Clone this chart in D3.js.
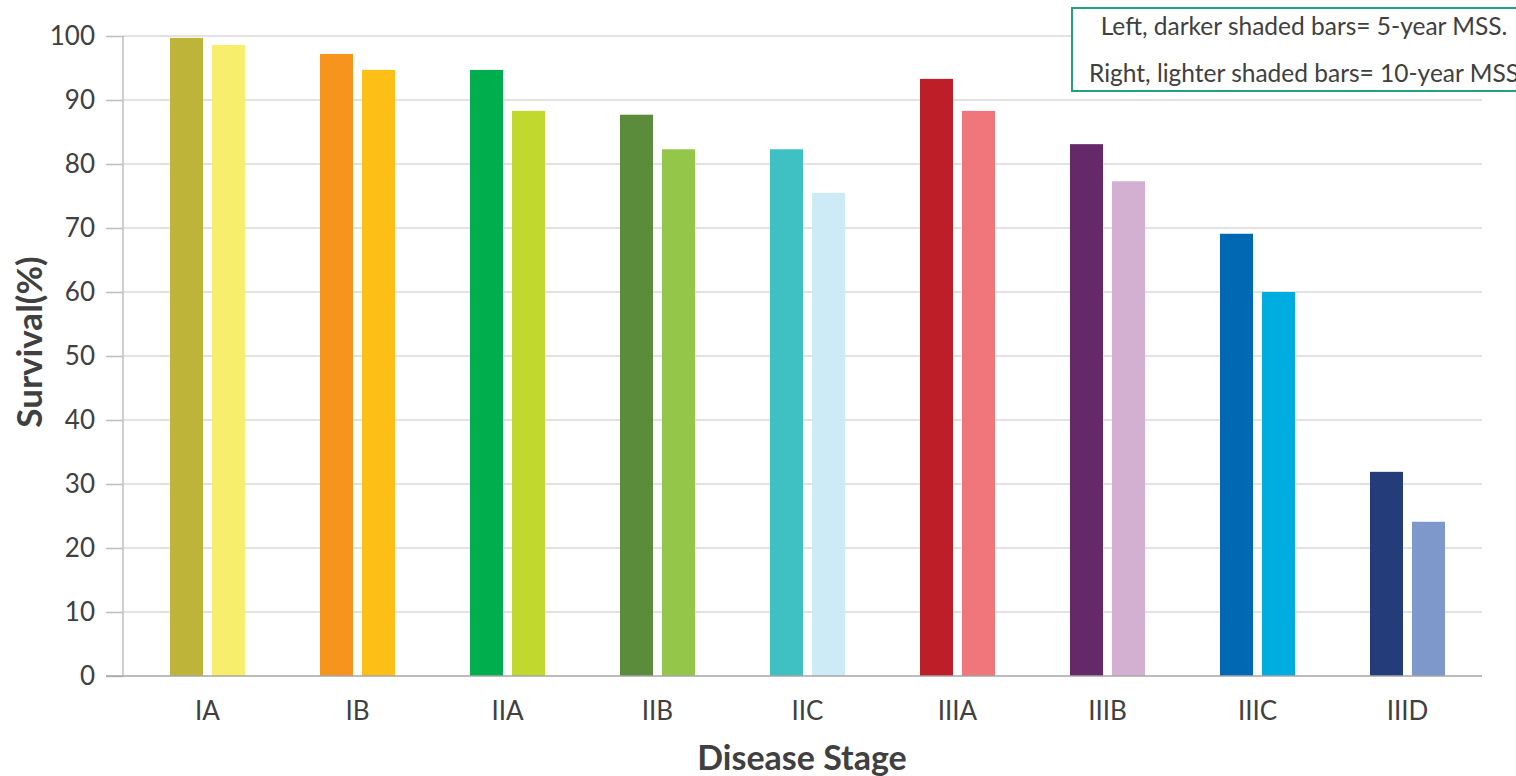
<!DOCTYPE html>
<html><head><meta charset="utf-8">
<script src="https://cdn.jsdelivr.net/npm/d3@7"></script>
<style>
html,body{margin:0;padding:0;background:#fff;overflow:hidden}
text{font-family:Lato,"Open Sans",sans-serif;fill:#404040}
</style></head><body>
<svg id="c" width="1516" height="776"></svg>
<script>
const stages = ["IA","IB","IIA","IIB","IIC","IIIA","IIIB","IIIC","IIID"];
const mss5  = [99.7, 97.2, 94.7, 87.7, 82.3, 93.3, 83.1, 69.1, 31.9];
const mss10 = [98.6, 94.7, 88.3, 82.3, 75.5, 88.3, 77.3, 60.0, 24.1];
const colors5  = ["#BEB43A","#F7941D","#00AE4D","#5B8C3B","#3FC0C3","#BE1E27","#652869","#0168B3","#243C7A"];
const colors10 = ["#F7EE6B","#FDBE16","#C1D92F","#94C64A","#CCEBF7","#F1767C","#D3AFD1","#00ADE0","#7E98CB"];
const yTicks = [0,10,20,30,40,50,60,70,80,90,100];
const legendLines = ["Left, darker shaded bars= 5-year MSS.","Right, lighter shaded bars= 10-year MSS"];

const svg = d3.select("#c");
const y = d3.scaleLinear().domain([0,100]).range([676,36]);
const x = d3.scaleBand().domain(stages).range([132.5,1482.5]).paddingInner(0);
const x1 = d3.scaleBand().domain(["5","10"]).range([0,75]).paddingInner(9/42).paddingOuter(0);
const groupOff = (x.bandwidth()-75)/2;

// gridlines
svg.append("g").selectAll("line").data(yTicks.filter(d=>d>0)).join("line")
  .attr("x1",123).attr("x2",1482).attr("y1",d=>y(d)).attr("y2",d=>y(d))
  .attr("stroke","#d9d9d9").attr("stroke-width",1.5);

// y axis
const yAxis = svg.append("g").attr("transform","translate(123,0)")
  .call(d3.axisLeft(y).tickValues(yTicks).tickSize(17).tickPadding(11));
yAxis.select(".domain").attr("stroke","#bfbfbf").attr("stroke-width",1.5).attr("d","M0,676V36");
yAxis.selectAll(".tick line").attr("stroke","#bfbfbf").attr("stroke-width",1.5);
yAxis.selectAll(".tick text").style("font-size","26px").style("fill","#404040");

// bars
const g = svg.append("g");
stages.forEach((s,i)=>{
  g.append("rect").attr("x",x(s)+groupOff+x1("5")).attr("width",x1.bandwidth())
    .attr("y",y(mss5[i])).attr("height",y(0)-y(mss5[i])).attr("fill",colors5[i]);
  g.append("rect").attr("x",x(s)+groupOff+x1("10")).attr("width",x1.bandwidth())
    .attr("y",y(mss10[i])).attr("height",y(0)-y(mss10[i])).attr("fill",colors10[i]);
});

// x axis
const xAxis = svg.append("g").attr("transform","translate(0,676)")
  .call(d3.axisBottom(x).tickSize(0).tickPadding(26));
xAxis.select(".domain").attr("stroke","#a6a6a6").attr("stroke-width",1.5).attr("d","M106,0H1482");
xAxis.selectAll(".tick text").style("font-size","26px").style("fill","#404040");

// axis titles
svg.append("text").attr("transform","translate(42,342) rotate(-90)").attr("text-anchor","middle")
  .style("font-size","35px").style("font-weight","bold").text("Survival(%)");
svg.append("text").attr("x",802).attr("y",770).attr("text-anchor","middle")
  .style("font-size","34px").style("font-weight","bold").text("Disease Stage");

// legend box
svg.append("rect").attr("x",1072).attr("y",8).attr("width",470).attr("height",83)
  .attr("fill","#fff").attr("stroke","#1fa37f").attr("stroke-width",2);
svg.append("g").selectAll("text").data(legendLines).join("text")
  .attr("x",1304).attr("y",(d,i)=>35+i*47).attr("text-anchor","middle")
  .style("font-size","24.5px").text(d=>d);
</script></body></html>
